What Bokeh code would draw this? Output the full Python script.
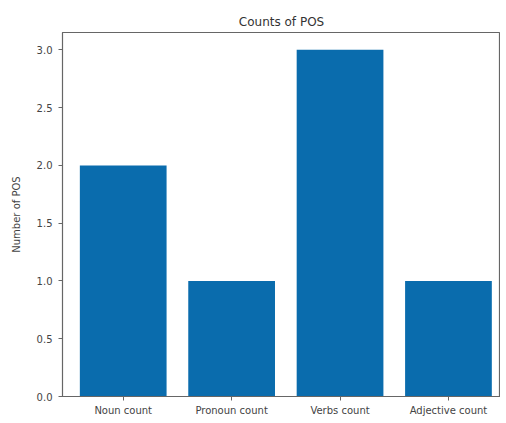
from bokeh.plotting import figure
from bokeh.models import Range1d, FixedTicker
from bokeh.embed import file_html
from bokeh.resources import INLINE

categories = ["Noun count", "Pronoun count", "Verbs count", "Adjective count"]
counts = [2, 1, 3, 1]
y_ticks = [0.0, 0.5, 1.0, 1.5, 2.0, 2.5, 3.0]

xs = list(range(len(categories)))

p = figure(width=500, height=418, output_backend="svg", toolbar_location=None,
           x_range=Range1d(-0.56, 3.48), y_range=Range1d(0, 3.15),
           min_border_left=62, min_border_top=32, min_border_bottom=22, min_border_right=0)

p.vbar(x=xs, top=counts, width=0.8, fill_color="#0a6cad", line_color=None)

p.title.text = "Counts of POS"
p.title.align = "center"
p.title.text_font = "DejaVu Sans"
p.title.text_font_size = "12px"
p.title.text_font_style = "normal"
p.title.text_color = "#333333"
p.title.offset = 0
p.title.standoff = 8

p.xgrid.visible = False
p.ygrid.visible = False
p.outline_line_color = "#666666"
p.outline_line_width = 1.2

p.xaxis.ticker = FixedTicker(ticks=xs)
p.xaxis.major_label_overrides = {i: c for i, c in enumerate(categories)}
p.yaxis.ticker = FixedTicker(ticks=y_ticks)
p.yaxis.major_label_overrides = {t: f"{t:.1f}" for t in y_ticks}
p.yaxis.axis_label = "Number of POS"

for ax in (p.xaxis[0], p.yaxis[0]):
    ax.axis_line_color = "#666666"
    ax.major_tick_line_color = "#666666"
    ax.major_tick_out = 4
    ax.major_tick_in = 0
    ax.minor_tick_line_color = None
    ax.major_label_text_font = "DejaVu Sans"
    ax.major_label_text_font_size = "10px"
    ax.major_label_text_color = "#444444"
    ax.axis_label_text_font = "DejaVu Sans"
    ax.axis_label_text_font_size = "10px"
    ax.axis_label_text_font_style = "normal"
    ax.axis_label_text_color = "#444444"

p.yaxis.major_label_standoff = 6
p.yaxis.axis_label_standoff = 12
p.xaxis.major_label_standoff = 4
p.xaxis.axis_label_standoff = 0

open("out.html", "w").write(file_html(p, INLINE))
